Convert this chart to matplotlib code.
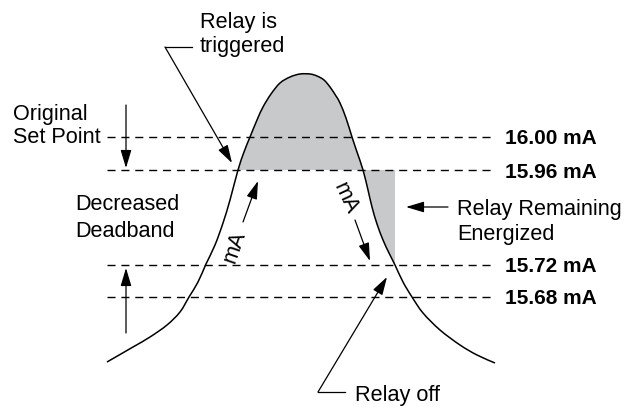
import numpy as np
import matplotlib.pyplot as plt
from matplotlib.patches import Polygon, PathPatch
from matplotlib.path import Path

plt.rcParams['font.family'] = ['Liberation Sans', 'DejaVu Sans']

# relay thresholds (schematic, not to scale) and where they sit on the drawing
levels = ['16.00 mA', '15.96 mA', '15.72 mA', '15.68 mA']
level_y = [136.7, 170, 265, 296.7]

# bell shaped signal curve (drawing units, y down)
curve_x = [107, 133, 150, 167, 180, 189, 198, 206, 215, 223, 230, 238, 244, 250,
           257, 263, 271, 280, 290, 300, 310, 317, 324, 330, 336, 340, 346, 352,
           357, 363, 368, 372, 377, 383, 389, 395, 403, 412, 423, 440, 460, 477,
           495]
curve_y = [362, 347, 337, 325, 312, 297, 282, 264, 245, 223, 200, 170, 152, 137,
           120, 107, 94, 83, 77, 74, 74, 76, 80, 87, 96, 103, 118, 137,
           152, 170, 190, 207, 224, 240, 253, 265, 282, 297, 313, 330, 345, 355,
           363]
hold_edge = 395  # right edge of the "remaining energized" band

grey = '#c8c9cb'
fs = 15.6

fig = plt.figure(figsize=(6.3, 4.07), dpi=100)
ax = fig.add_axes([0, 0, 1, 1])
ax.set_xlim(0, 630)
ax.set_ylim(407, 0)
ax.axis('off')

cx = np.array(curve_x, dtype=float)
cy = np.array(curve_y, dtype=float)

# shaded area above the trigger level
top = cy <= level_y[1]
ax.add_patch(Polygon(np.column_stack([cx[top], cy[top]]), closed=True,
                     facecolor=grey, edgecolor='none', zorder=1))
# shaded area while relay stays energized
rt = (cx > 300) & (cy >= level_y[1]) & (cy <= level_y[2])
pts = list(zip(cx[rt], cy[rt])) + [(hold_edge, level_y[2]), (hold_edge, level_y[1])]
ax.add_patch(Polygon(pts, closed=True, facecolor=grey, edgecolor='none', zorder=1))

# dashed levels
for lab, y in zip(levels, level_y):
    ax.plot([107, 493], [y, y], color='black', lw=1.0, dashes=(5.8, 4.2), zorder=2)
    ax.text(505, y + 7.5, lab, fontsize=15, fontweight='bold', ha='left', va='baseline')

# smooth curve through the read points (catmull-rom as cubic beziers)
P = np.column_stack([cx, cy])
verts = [P[0]]
codes = [Path.MOVETO]
for i in range(len(P) - 1):
    p0 = P[max(i - 1, 0)]
    p1 = P[i]
    p2 = P[i + 1]
    p3 = P[min(i + 2, len(P) - 1)]
    verts += [p1 + (p2 - p0) / 6, p2 - (p3 - p1) / 6, p2]
    codes += [Path.CURVE4] * 3
ax.add_patch(PathPatch(Path(verts, codes), facecolor='none', edgecolor='black',
                       lw=1.1, zorder=3))

arw = dict(arrowstyle='-|>,head_length=1.1,head_width=0.33', mutation_scale=10,
           color='black', lw=0.9, shrinkA=0, shrinkB=0)

def arrow(x0, y0, x1, y1):
    ax.annotate('', xy=(x1, y1), xytext=(x0, y0), arrowprops=arw)

# set point shifts
arrow(126, 105, 126, 168)
arrow(126, 333, 126, 268)

# relay triggered
ax.plot([192, 165], [47, 47], color='black', lw=0.9)
arrow(165, 47, 232, 163)
ax.text(200, 28, 'Relay is', fontsize=fs, va='baseline')
ax.text(200, 52, 'triggered', fontsize=fs, va='baseline')

ax.text(13, 120, 'Original', fontsize=fs, va='baseline')
ax.text(13, 143, 'Set Point', fontsize=fs, va='baseline')
ax.text(75, 210, 'Decreased', fontsize=fs, va='baseline')
ax.text(75, 237, 'Deadband', fontsize=fs, va='baseline')

# mA direction arrows
arrow(243, 222, 258, 181)
ax.text(235, 247, 'mA', fontsize=fs, rotation=71, ha='center', va='center')
arrow(355, 220, 370, 261)
ax.text(345, 198, 'mA', fontsize=fs, rotation=-65, ha='center', va='center')

# remaining energized
arrow(448, 207, 406, 207)
ax.text(457, 215, 'Relay Remaining', fontsize=fs, va='baseline')
ax.text(457, 240, 'Energized', fontsize=fs, va='baseline')

# relay off
ax.plot([345, 318], [392, 392], color='black', lw=0.9)
arrow(318, 392, 387, 277)
ax.text(355, 401, 'Relay off', fontsize=fs, va='baseline')

fig.savefig('out.png', dpi=100, facecolor='white')
